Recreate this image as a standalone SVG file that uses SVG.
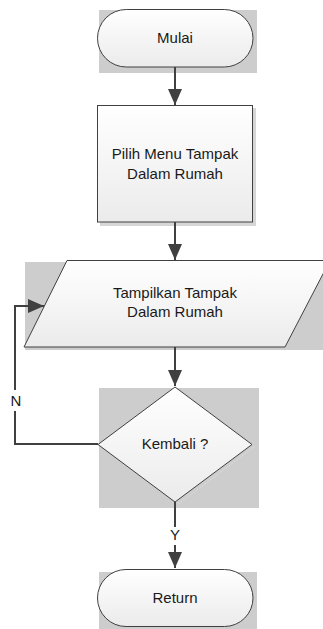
<svg xmlns="http://www.w3.org/2000/svg" width="323" height="629" viewBox="0 0 323 629">
  <style>
    .bg { fill: #cdcdcd; }
    .shape { fill: url(#shapeFill); stroke: #404040; stroke-width: 1; }
    .shadow { fill: #d6d6d6; }
    .label { font-family: "Liberation Sans", Arial, sans-serif; font-size: 15px; fill: #1a1a1a; text-anchor: middle; }
    .conn { fill: none; stroke: #404040; stroke-width: 2; }
  </style>
  <defs>
    <linearGradient id="shapeFill" x1="0" y1="0" x2="0" y2="1">
      <stop offset="0" stop-color="#ffffff"/>
      <stop offset="1" stop-color="#ebebeb"/>
    </linearGradient>
    <marker id="arrow" viewBox="0 0 16 14" refX="16" refY="7" markerWidth="16" markerHeight="14" markerUnits="userSpaceOnUse" orient="auto">
      <path d="M0,0 L16,7 L0,14 Z" fill="#404040"/>
    </marker>
  </defs>
  <rect width="323" height="629" fill="#ffffff"/>

  <!-- start -->
  <g id="mulai">
    <rect class="bg" x="99" y="10" width="158" height="63"/>
    <rect class="shape" x="97.5" y="9.5" width="155.5" height="57.5" rx="28.75" ry="28.75"/>
    <text class="label" x="175" y="43">Mulai</text>
  </g>

  <!-- process -->
  <g id="pilih-menu">
    <rect class="shadow" x="100" y="108" width="156" height="118"/>
    <rect class="shape" x="97.5" y="105.5" width="155" height="116.5"/>
    <text class="label" x="175" y="159">Pilih Menu Tampak</text>
    <text class="label" x="175" y="179">Dalam Rumah</text>
  </g>

  <!-- display / input-output -->
  <g id="tampilkan">
    <rect class="bg" x="25" y="262" width="298" height="88"/>
    <polygon class="shape" points="67,260.5 330,260.5 285,347 24,347"/>
    <text class="label" x="175" y="298">Tampilkan Tampak</text>
    <text class="label" x="175" y="317">Dalam Rumah</text>
  </g>

  <!-- decision -->
  <g id="kembali">
    <rect class="bg" x="99" y="388" width="160" height="120"/>
    <polyline points="254,447 177,505" fill="none" stroke="#e2e2e2" stroke-width="1" stroke-dasharray="1,1"/>
    <polygon class="shape" points="175,387 252,444.5 175,502 98,444.5"/>
    <text class="label" x="175" y="449">Kembali ?</text>
  </g>

  <!-- end -->
  <g id="return">
    <rect class="bg" x="99" y="572" width="158" height="57"/>
    <rect class="shape" x="97.5" y="569.5" width="155.5" height="57" rx="28.5" ry="28.5"/>
    <text class="label" x="175" y="603">Return</text>
  </g>

  <!-- connectors, drawn over the node backgrounds -->
  <g id="connectors">
    <line class="conn" x1="175" y1="67" x2="175" y2="105" marker-end="url(#arrow)"/>
    <line class="conn" x1="175" y1="222" x2="175" y2="260" marker-end="url(#arrow)"/>
    <line class="conn" x1="175" y1="347" x2="175" y2="386" marker-end="url(#arrow)"/>
    <path class="conn" d="M98,444 H15 V411 M15,390 V306 H44" marker-end="url(#arrow)"/>
    <text class="label" x="16" y="406">N</text>
    <path class="conn" d="M175,502 V527 M175,545 V568" marker-end="url(#arrow)"/>
    <text class="label" x="175" y="540">Y</text>
  </g>
</svg>
